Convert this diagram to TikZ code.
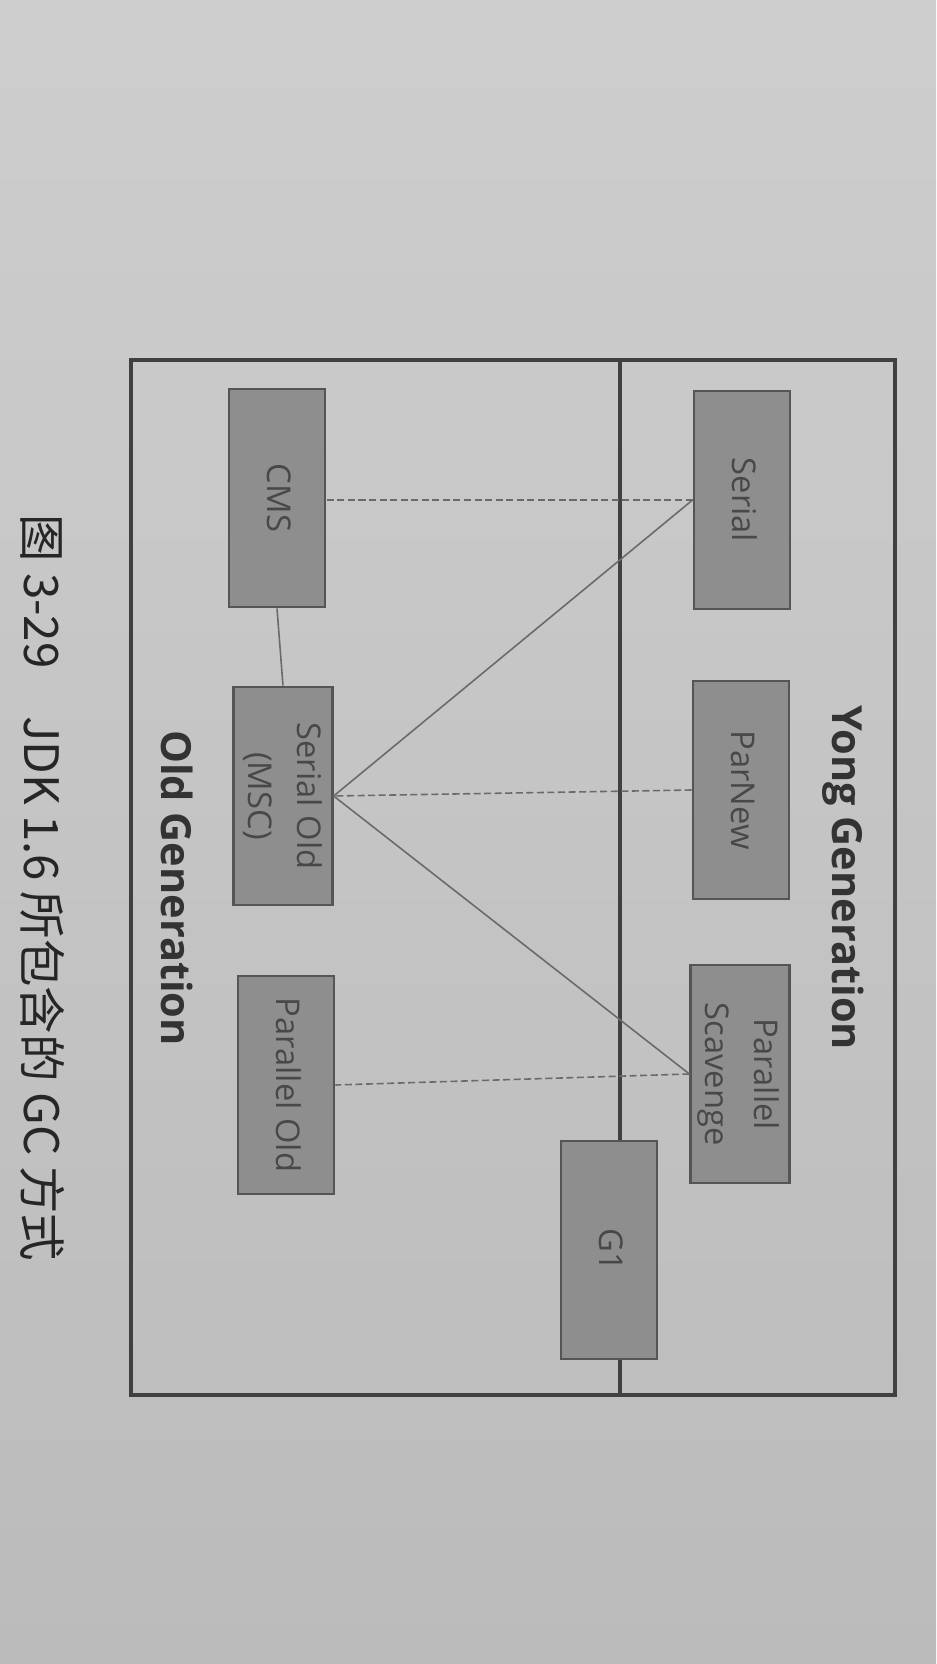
\documentclass[tikz,border=0pt]{standalone}
\usepackage{fontspec}
\setmainfont{Open Sans}
\newfontfamily\cjkfont{Noto Sans CJK SC}
\usepackage{tikz}

\definecolor{paper}{HTML}{C8C8C8}
\definecolor{paperdark}{HTML}{BBBBBB}
\definecolor{boxfill}{HTML}{8E8E8E}
\definecolor{boxedge}{HTML}{555555}
\definecolor{boxtext}{HTML}{484848}
\definecolor{framegray}{HTML}{404040}
\definecolor{linkgray}{HTML}{6A6A6A}

\begin{document}
\begin{tikzpicture}[x=0.01cm, y=-0.01cm,
  gcbox/.style={draw=boxedge, fill=boxfill, line width=0.8pt, inner sep=0pt,
    minimum width=0.96cm, minimum height=2.18cm, text=boxtext,
    font=\fontsize{9.3}{14}\selectfont},
  link/.style={draw=linkgray, line width=0.45pt},
  dashlink/.style={link, dash pattern=on 2pt off 1pt},
  genlabel/.style={rotate=-90, text=black!80, font=\fontsize{11.8}{14}\selectfont\bfseries}]
  \newcommand{\vtxt}[1]{\rotatebox{-90}{\begin{tabular}{@{}c@{}}#1\end{tabular}}}
  \shade[top color=paper!90!white, bottom color=paperdark] (0,0) rectangle (936,1664);
  \useasboundingbox (0,0) rectangle (936,1664);
  % frame and the split between the two generations
  \draw[framegray, line width=0.9pt] (131,360) rectangle (895,1395);
  \coordinate (splittop) at (620,360);
  \coordinate (splitbot) at (620,1395);
  % young generation collectors
  \node[gcbox] (serial) at (742,500) {\vtxt{Serial}};
  \node[gcbox] (parnew) at (741,790) {\vtxt{ParNew}};
  \node[gcbox] (pscav) at (740,1074) {\vtxt{Parallel\\Scavenge}};
  \node[gcbox] (gone) at (609,1250) {\vtxt{G1}};
  % old generation collectors
  \node[gcbox] (cms) at (277,498) {\vtxt{CMS}};
  \node[gcbox] (serold) at (283,796) {\vtxt{Serial Old\\(MSC)}};
  \node[gcbox] (parold) at (286,1085) {\vtxt{Parallel Old}};
  \draw[framegray, line width=0.9pt] (splittop) -- (splittop |- gone.north);
  \draw[framegray, line width=0.9pt] (splitbot) -- (splitbot |- gone.south);
  % pairings
  \draw[dashlink] (serial.west) -- (cms.east |- serial.west);
  \draw[link] (serial.west) -- (serold.east);
  \draw[dashlink] (parnew.west) -- (serold.east);
  \draw[link] (pscav.west) -- (serold.east);
  \draw[dashlink] (pscav.west) -- (parold.east);
  \draw[link] (cms.south) -- (serold.north);
  \node[genlabel] (yong) at (843,878) {Yong Generation};
  \node[genlabel] (old) at (177,888) {Old Generation};
  \node[rotate=-90, text=black!85, font=\cjkfont\fontsize{13.5}{15}\selectfont] (caption) at (43,888)
    {图 3-29\quad JDK 1.6 所包含的 GC 方式};
\end{tikzpicture}
\end{document}
